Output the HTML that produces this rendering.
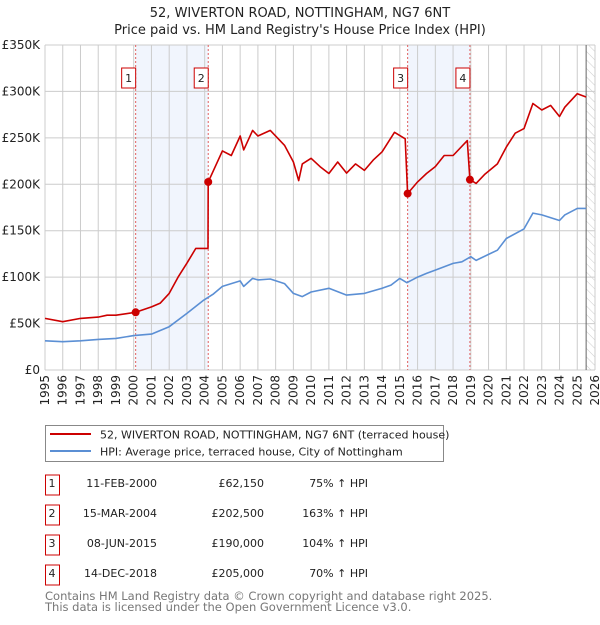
<!DOCTYPE html>
<html><head><meta charset="utf-8"><style>
body{margin:0;background:#fff;font-family:"Liberation Sans","DejaVu Sans",sans-serif;}
svg text{font-family:"DejaVu Sans","Liberation Sans",sans-serif;}
</style></head><body>
<svg id="chart" width="600" height="620" xmlns="http://www.w3.org/2000/svg">
<defs><pattern id="hatch" width="6" height="6" patternUnits="userSpaceOnUse" patternTransform="rotate(-45)"><line x1="0" y1="0" x2="0" y2="6" stroke="#ccc" stroke-width="1"/></pattern></defs>
<text x="300" y="17" text-anchor="middle" font-size="13" fill="#222">52, WIVERTON ROAD, NOTTINGHAM, NG7 6NT</text>
<text x="300" y="34" text-anchor="middle" font-size="13" fill="#222">Price paid vs. HM Land Registry's House Price Index (HPI)</text>
<g id="plot"></g>
<g>
<rect x="45.5" y="425.5" width="398" height="36" fill="#fff" stroke="#888"/>
<line x1="50" y1="434" x2="91" y2="434" stroke="#cc0000" stroke-width="2"/>
<text x="100" y="438.5" font-size="11" fill="#222">52, WIVERTON ROAD, NOTTINGHAM, NG7 6NT (terraced house)</text>
<line x1="50" y1="451" x2="91" y2="451" stroke="#5b8fd4" stroke-width="2"/>
<text x="100" y="455.5" font-size="11" fill="#222">HPI: Average price, terraced house, City of Nottingham</text>
</g>
<g id="table"></g>
<text x="45" y="600" font-size="11.5" fill="#777">Contains HM Land Registry data © Crown copyright and database right 2025.</text>
<text x="45" y="611" font-size="11.5" fill="#777">This data is licensed under the Open Government Licence v3.0.</text>
</svg>
<script>
const hpiYears=[1995,1996,1997,1998,1999,2000,2001,2002,2003,2003.9,2004.5,2005,2006,2006.2,2006.7,2007,2007.7,2008.5,2009,2009.5,2010,2011,2012,2013,2014,2014.5,2015,2015.4,2016,2016.5,2017,2018,2018.5,2019,2019.3,2020,2020.5,2021,2022,2022.5,2023,2024,2024.3,2025,2025.5];
const hpiValues=[31.5,30.5,31.5,33,34,37,38.7,46.6,61,74.6,82,90,96,90,98.6,97,98,93,82.5,79,84,88,80.7,82.5,88,91.4,98.6,94,100,104,107.6,114.8,116.5,122,118,124.5,129,141.6,152,169,167,161,167,174,174];
const priceYears=[1995,1996,1997,1998,1998.5,1999,2000.11,2001,2001.5,2002,2002.5,2003,2003.5,2004.19,2004.2,2004.5,2005,2005.5,2006,2006.2,2006.7,2007,2007.7,2008.5,2009,2009.3,2009.5,2010,2010.5,2011,2011.5,2012,2012.5,2013,2013.5,2014,2014.7,2015.3,2015.44,2016,2016.5,2017,2017.5,2018,2018.8,2018.95,2019.3,2019.8,2020.5,2021,2021.5,2022,2022.5,2023,2023.5,2024,2024.3,2025,2025.5];
const priceValues=[55.6,52,55.6,57,59,59,62.15,68,72,82.5,100,115,131,131,202.5,215,236,231,252,237,258,252,258,242,224,204,222,228,219,211.6,224,212,222,215,226,235,256,249,190,202.6,211.6,219,231,231,247,205,201,211,222,240,255,260,287,280,285,273,283,297.6,294];
const saleYears=[2000.11,2004.2,2015.44,2018.95];
const saleValues=[62.15,202.5,190,205];
const saleLabels=["1","2","3","4"];
const saleDates=["11-FEB-2000","15-MAR-2004","08-JUN-2015","14-DEC-2018"];
const salePrices=["£62,150","£202,500","£190,000","£205,000"];
const saleHpi=["75% ↑ HPI","163% ↑ HPI","104% ↑ HPI","70% ↑ HPI"];
const yTicks=[0,50,100,150,200,250,300,350];
const yTickLabels=["£0","£50K","£100K","£150K","£200K","£250K","£300K","£350K"];
const xTicks=[1995,1996,1997,1998,1999,2000,2001,2002,2003,2004,2005,2006,2007,2008,2009,2010,2011,2012,2013,2014,2015,2016,2017,2018,2019,2020,2021,2022,2023,2024,2025,2026];
const NS="http://www.w3.org/2000/svg";
const L=45,R=595,T=45,B=370;
const X=y=>L+(y-1995)*(R-L)/31;
const Y=v=>B-v*(B-T)/350;
const plot=document.getElementById('plot');
function mk(tag,attrs,parent){const e=document.createElementNS(NS,tag);for(const k in attrs)e.setAttribute(k,attrs[k]);(parent||plot).appendChild(e);return e;}
for(let i=0;i<4;i+=2){
 const r=mk('rect',{x:X(saleYears[i]),y:T,width:X(saleYears[i+1])-X(saleYears[i]),height:B-T,fill:'#eef3fc',opacity:0.8});
 
 
}
const h=mk('rect',{x:X(2025.5),y:T,width:R-X(2025.5),height:B-T,fill:'url(#hatch)'});


yTicks.forEach((v,i)=>{
 const g=mk('line',{x1:L,x2:R,y1:Y(v),y2:Y(v),stroke:'#ccc'});
 
 
 const t=mk('text',{x:L-5,y:Y(v)+4,'text-anchor':'end','font-size':12,fill:'#222'});
 t.textContent=yTickLabels[i];
 
 
});
xTicks.forEach(yr=>{
 const g=mk('line',{x1:X(yr),x2:X(yr),y1:T,y2:B,stroke:'#ccc'});
 
 
 const t=mk('text',{x:X(yr)+4,y:B+5,'text-anchor':'end','font-size':12,fill:'#222',transform:`rotate(-90 ${X(yr)+4} ${B+5})`});
 t.textContent=yr;
 
 
});
mk('line',{x1:X(2025.5),x2:X(2025.5),y1:T,y2:B,stroke:'#666'});
saleYears.forEach((yr,i)=>{
 const l=mk('line',{x1:X(yr),x2:X(yr),y1:T,y2:B,stroke:'#e06060','stroke-dasharray':'2,2'});
 
 
 const b=mk('rect',{x:X(yr)-7-7,y:68,width:14,height:20,fill:'#fff',stroke:'#cc0000'});
 
 
 const t=mk('text',{x:X(yr)-7,y:82,'text-anchor':'middle','font-size':11,fill:'#222'});
 t.textContent=saleLabels[i];
 
 
});
function path(xs,vs,color,name){
 const d=xs.map((x,i)=>(i?'L':'M')+X(x).toFixed(1)+','+Y(vs[i]).toFixed(1)).join('');
 const p=mk('path',{d:d,fill:'none',stroke:color,'stroke-width':1.6,'stroke-linejoin':'round'});
 
 
}
path(hpiYears,hpiValues,'#5b8fd4','hpi-line');
path(priceYears,priceValues,'#cc0000','price-line');
saleYears.forEach((yr,i)=>{
 const c=mk('circle',{cx:X(yr),cy:Y(saleValues[i]),r:4,fill:'#cc0000'});
 
 
});
const tb=document.getElementById('table');
const rowY=[483,513,543,573];
saleLabels.forEach((lab,i)=>{
 const y=rowY[i];
 const b=mk('rect',{x:45.5,y:y-8,width:14,height:20,fill:'#fff',stroke:'#cc0000'},tb);
 
 
 const cells=[[52,'middle',lab],[157,'end',saleDates[i]],[264,'end',salePrices[i]],[368,'end',saleHpi[i]]];
 cells.forEach(c=>{
  const t=mk('text',{x:c[0],y:y+4,'text-anchor':c[1],'font-size':11,fill:'#222'},tb);
  t.textContent=c[2];
  
  
 });
});
</script>
</body></html>
